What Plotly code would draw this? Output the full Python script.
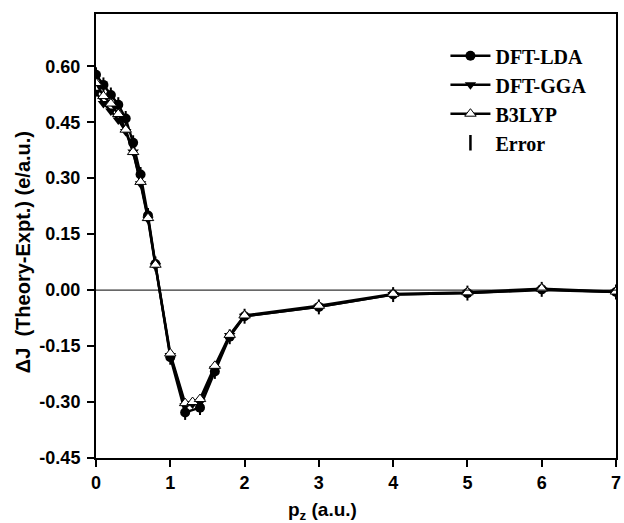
import plotly.graph_objects as go

x_lda = [0, 0.1, 0.2, 0.3, 0.4, 0.5, 0.6, 0.7, 0.8, 1.0, 1.2, 1.4, 1.6, 1.8, 2.0, 3, 4, 5, 6, 7]
y_lda = [0.577, 0.55, 0.523, 0.497, 0.46, 0.395, 0.31, 0.20, 0.07, -0.18, -0.328, -0.315, -0.218, -0.125, -0.07, -0.045, -0.012, -0.008, 0.002, -0.005]

x_gga = [0, 0.1, 0.2, 0.3, 0.4, 0.5, 0.6, 0.7, 0.8, 1.0, 1.2, 1.3, 1.4, 1.6, 1.8, 2.0, 3, 4, 5, 6, 7]
y_gga = [0.53, 0.50, 0.48, 0.456, 0.425, 0.37, 0.285, 0.19, 0.065, -0.175, -0.31, -0.305, -0.30, -0.21, -0.122, -0.07, -0.045, -0.012, -0.008, 0.0, -0.005]

x_b3 = [0, 0.1, 0.2, 0.3, 0.4, 0.5, 0.6, 0.7, 0.8, 1.0, 1.2, 1.3, 1.4, 1.6, 1.8, 2.0, 3, 4, 5, 6, 7]
y_b3 = [0.555, 0.52, 0.50, 0.472, 0.43, 0.37, 0.29, 0.193, 0.068, -0.17, -0.303, -0.300, -0.292, -0.203, -0.12, -0.068, -0.042, -0.01, -0.006, 0.004, -0.004]

err = [0.02] * len(x_lda)

x_ticks = [0, 1, 2, 3, 4, 5, 6, 7]
y_ticks = [-0.45, -0.30, -0.15, 0.00, 0.15, 0.30, 0.45, 0.60]
y_tick_text = ["-0.45", "-0.30", "-0.15", "0.00", "0.15", "0.30", "0.45", "0.60"]

fig = go.Figure()
fig.add_trace(go.Scatter(
    x=x_lda, y=y_lda, name="DFT-LDA", mode="lines+markers",
    line=dict(color="black", width=2.4),
    marker=dict(symbol="circle", size=10, color="black"),
    error_y=dict(type="data", array=err, visible=True, color="black", thickness=2, width=0),
))
fig.add_trace(go.Scatter(
    x=x_gga, y=y_gga, name="DFT-GGA", mode="lines+markers",
    line=dict(color="black", width=2.4),
    marker=dict(symbol="triangle-down", size=10, color="black"),
))
fig.add_trace(go.Scatter(
    x=x_b3, y=y_b3, name="B3LYP", mode="lines+markers",
    line=dict(color="black", width=2.4),
    marker=dict(symbol="triangle-up", size=10, color="white", line=dict(color="black", width=1)),
))
fig.add_trace(go.Scatter(
    x=[None], y=[None], name="Error", mode="markers",
    marker=dict(symbol="line-ns", size=11, color="black", line=dict(color="black", width=2.5)),
))

fig.add_hline(y=0, line=dict(color="black", width=1))

tick_font = dict(family="Liberation Sans, Arial", size=18, color="black", weight="bold")
title_font = dict(family="Liberation Sans, Arial", size=20, color="black", weight="bold")

fig.add_annotation(
    text="ΔJ  (Theory-Expt.) (e/a.u.)", textangle=-90,
    xref="paper", yref="paper", x=(23 - 96) / 525, y=(458 - 252) / 445,
    xanchor="center", yanchor="middle", showarrow=False, font=title_font,
)
fig.add_annotation(
    text="p<sub>z</sub> (a.u.)",
    xref="paper", yref="paper", x=(325 - 96) / 525, y=(458 - 511) / 445,
    xanchor="center", yanchor="middle", showarrow=False,
    font=dict(family="Liberation Sans, Arial", size=19, color="black", weight="bold"),
)

fig.update_layout(
    width=624, height=523,
    margin=dict(l=96, r=3, t=14, b=65),
    paper_bgcolor="white", plot_bgcolor="white",
    showlegend=True,
    legend=dict(
        x=0.672, y=0.95, xanchor="left", yanchor="top",
        font=dict(family="Liberation Serif, Times New Roman", size=20, color="black", weight="bold"),
        bgcolor="rgba(0,0,0,0)", tracegroupgap=0, itemwidth=40,
    ),
    xaxis=dict(
        range=[0, 7], tickvals=x_ticks, ticktext=[str(t) for t in x_ticks],
        showline=True, linecolor="black", linewidth=2, mirror=True,
        ticks="outside", ticklen=7, tickwidth=1.5, tickcolor="black",
        showgrid=False, zeroline=False, tickfont=tick_font,
        ticklabeloverflow="allow",
    ),
    yaxis=dict(
        range=[-0.45, 0.74], tickvals=y_ticks, ticktext=y_tick_text,
        showline=True, linecolor="black", linewidth=2, mirror=True,
        ticks="outside", ticklen=7, tickwidth=1.5, tickcolor="black",
        showgrid=False, zeroline=False, tickfont=tick_font,
        ticklabelstandoff=3,
    ),
)

fig.write_html("out.html")
